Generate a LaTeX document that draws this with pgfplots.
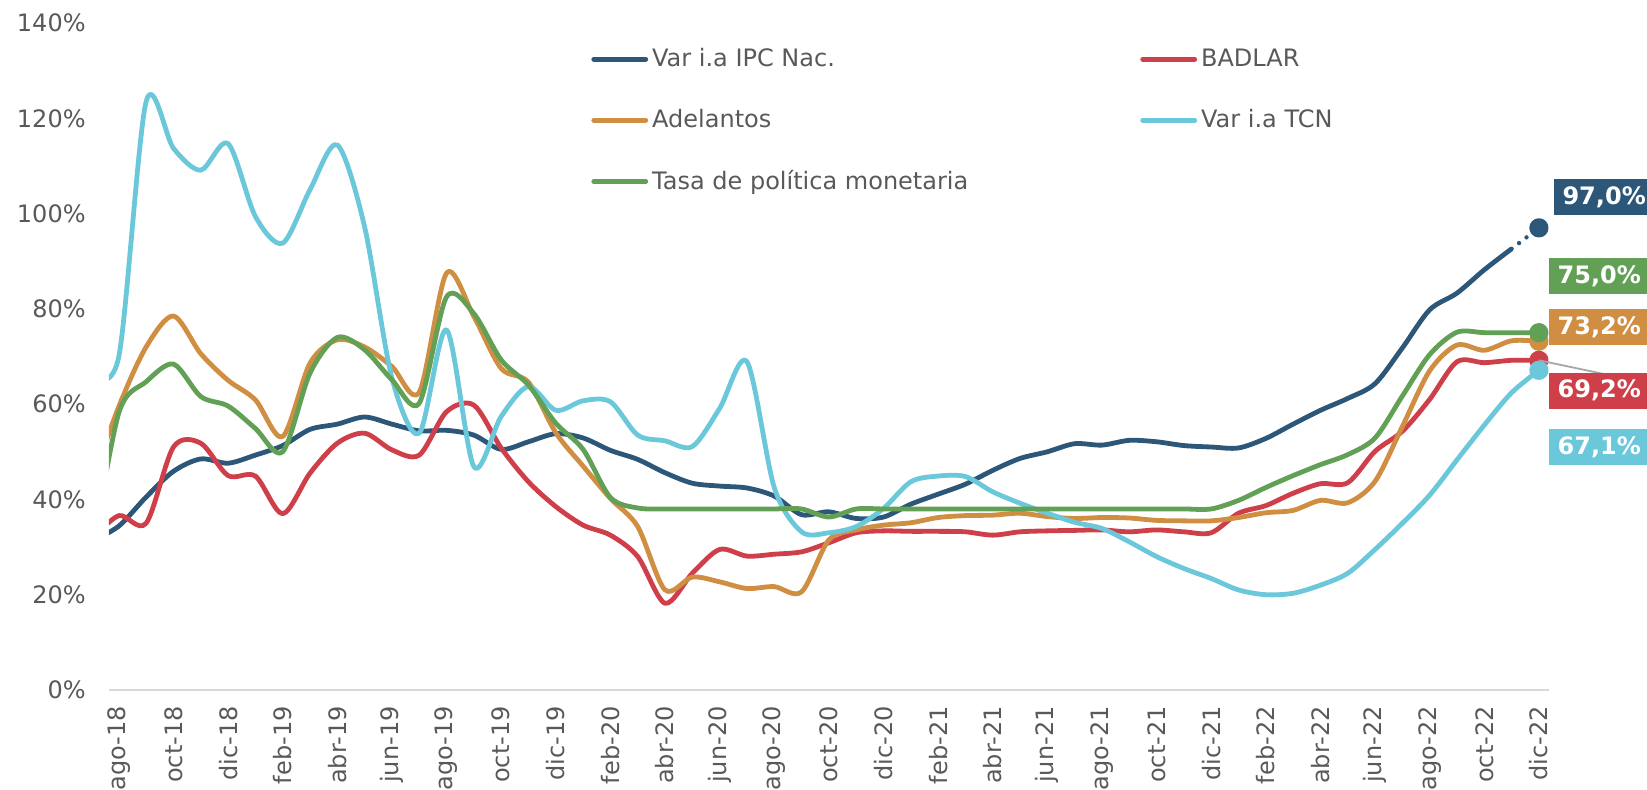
\documentclass[border=0pt]{standalone}
\usepackage{fontspec}
\setmainfont{DejaVu Sans}
\usepackage{pgfplots}
\pgfplotsset{compat=1.18}
\usepackage{pgfplotstable}
\usetikzlibrary{calc}

\definecolor{ipc}{HTML}{2C5779}
\definecolor{bad}{HTML}{CF3F4A}
\definecolor{ade}{HTML}{D08E42}
\definecolor{tcn}{HTML}{6BC7DA}
\definecolor{tpm}{HTML}{62A055}
\definecolor{txt}{HTML}{595959}
\definecolor{axl}{HTML}{D9D9D9}

\pgfplotstableread{
i   ipc   bad   ade   tcn    tpm
-1  31.2  31.6  43.4  66.0   28.0
0   34.4  36.6  59.5  70.0   58.2
1   40.5  35.0  72.0  123.5  64.7
2   45.9  51.0  78.5  113.7  68.4
3   48.5  51.8  70.6  109.1  61.6
4   47.6  45.0  65.0  114.7  59.6
5   49.3  44.9  60.9  99.4   54.9
6   51.3  37.0  53.2  93.8   50.0
7   54.7  45.5  68.6  105.0  66.5
8   55.8  51.8  73.5  114.4  74.0
9   57.3  53.9  72.0  97.2   71.4
10  55.8  50.4  67.9  65.5   65.1
11  54.4  49.3  62.5  53.9   60.2
12  54.5  58.4  87.5  75.6   82.5
13  53.5  59.8  78.4  46.9   79.0
14  50.5  50.8  67.5  57.4   69.3
15  52.1  43.7  64.6  63.7   64.0
16  53.8  38.5  54.0  58.7   56.0
17  52.9  34.6  47.0  60.7   50.5
18  50.3  32.5  40.2  60.5   40.4
19  48.4  28.0  34.3  53.5   38.2
20  45.6  18.2  21.0  52.3   38.0
21  43.4  24.5  23.7  51.1   38.0
22  42.8  29.5  22.7  59.1   38.0
23  42.4  28.1  21.3  68.9   38.0
24  40.7  28.5  21.7  42.5   38.0
25  36.8  29.0  20.6  33.2   38.0
26  37.4  30.9  31.5  33.0   36.3
27  36.0  33.0  33.6  34.3   38.0
28  36.3  33.4  34.6  38.1   38.0
29  39.0  33.3  35.1  43.7   38.0
30  41.1  33.3  36.2  44.9   38.0
31  43.2  33.2  36.6  44.8   38.0
32  46.1  32.5  36.7  41.6   38.0
33  48.6  33.2  37.1  39.2   38.0
34  50.0  33.4  36.4  37.1   38.0
35  51.7  33.5  36.0  35.2   38.0
36  51.4  33.6  36.2  33.9   38.0
37  52.4  33.2  36.1  31.1   38.0
38  52.1  33.6  35.6  28.0   38.0
39  51.3  33.2  35.5  25.5   38.0
40  51.0  33.0  35.5  23.4   38.0
41  50.8  37.1  36.2  21.0   39.8
42  52.8  38.7  37.2  20.0   42.5
43  55.8  41.3  37.7  20.3   45.0
44  58.7  43.3  39.8  22.0   47.3
45  61.2  43.5  39.3  24.5   49.4
46  64.3  50.1  43.8  29.5   52.9
47  71.8  54.3  55.3  35.0   61.7
48  79.8  61.0  67.0  40.9   70.4
49  83.3  68.9  72.4  48.3   75.1
50  88.2  68.7  71.3  55.6   75.0
51  92.6  69.2  73.3  62.4   75.0
52  97.0  69.2  73.2  67.1   75.0
}\data

\begin{document}
\fontsize{12}{14.4}\selectfont
\begin{tikzpicture}
\begin{axis}[
  name=ax,
  scale only axis,
  width=720pt, height=333.5pt,
  xmin=-0.36, xmax=52.37,
  ymin=0, ymax=140,
  clip mode=individual,
  axis x line*=bottom, axis y line*=left,
  y axis line style={draw=none},
  x axis line style={draw=axl, line width=1.3pt},
  major tick length=0pt,
  ytick={0,20,...,140},
  yticklabel={\pgfmathprintnumber{\tick}\%},
  xtick={0,2,...,52},
  xticklabels={ago-18,oct-18,dic-18,feb-19,abr-19,jun-19,ago-19,oct-19,dic-19,feb-20,abr-20,jun-20,ago-20,oct-20,dic-20,feb-21,abr-21,jun-21,ago-21,oct-21,dic-21,feb-22,abr-22,jun-22,ago-22,oct-22,dic-22},
  xticklabel style={rotate=90, anchor=east},
  xticklabel shift=4pt,
  yticklabel shift=7.5pt,
  ticklabel style={font=\fontsize{12}{14.4}\selectfont, text=txt},
  /pgf/number format/assume math mode=true,
  every axis plot/.append style={line width=2.4pt, line join=round},
  legend columns=2,
  legend cell align=left,
  legend image code/.code={\draw[#1, line width=2.4pt, line cap=round] (0pt,0pt) -- (26pt,0pt);},
  legend style={draw=none, fill=none, inner sep=0pt,
    at={(0.3347,0.9688)}, anchor=north west,
    font=\fontsize{12}{14.4}\selectfont, text=txt,
    row sep=15.6pt,
    /tikz/every even column/.append style={column sep=84pt}},
]
\addplot[ipc, smooth, restrict x to domain=-1:51] table[x=i, y=ipc] {\data};
\addlegendentry{Var i.a IPC Nac.}
\addplot[bad, smooth] table[x=i, y=bad] {\data};
\addlegendentry{BADLAR}
\addplot[ade, smooth] table[x=i, y=ade] {\data};
\addlegendentry{Adelantos}
\addplot[tcn, smooth] table[x=i, y=tcn] {\data};
\addlegendentry{Var i.a TCN}
\addplot[tpm, smooth] table[x=i, y=tpm] {\data};
\addlegendentry{Tasa de política monetaria}

\addplot[ipc, forget plot, line width=2.2pt, line cap=round, dash pattern=on 0pt off 4.7pt] coordinates {(51,92.6) (52,97.0)};

\addplot[forget plot, only marks, mark=*, mark size=3.6pt, ipc] coordinates {(52,97.0)};
\addplot[forget plot, only marks, mark=*, mark size=3.6pt, bad] coordinates {(52,69.2)};
\addplot[forget plot, only marks, mark=*, mark size=3.6pt, ade] coordinates {(52,73.2)};
\addplot[forget plot, only marks, mark=*, mark size=3.6pt, tcn] coordinates {(52,67.1)};
\addplot[forget plot, only marks, mark=*, mark size=3.6pt, tpm] coordinates {(52,75.0)};

\draw[color=black!35, line width=0.9pt] (axis cs:52,69.2) -- (axis cs:54.4,66.3);

\tikzset{lab/.style={anchor=west, text=white, font=\fontsize{12}{14.4}\selectfont\bfseries, inner xsep=4.5pt, inner ysep=0pt, minimum height=18pt, text width=46pt, align=left}}
\node[lab, fill=ipc] at (axis cs:52.52,103.5) {97,0\%};
\node[lab, fill=tpm] at (axis cs:52.34,86.9) {75,0\%};
\node[lab, fill=ade] at (axis cs:52.34,76.2) {73,2\%};
\node[lab, fill=bad] at (axis cs:52.34,62.8) {69,2\%};
\node[lab, fill=tcn] at (axis cs:52.34,51.0) {67,1\%};
\end{axis}
\pgfresetboundingbox
\path[use as bounding box] ($(ax.south west)+(-54.5pt,-50pt)$) rectangle ($(ax.north east)+(49pt,11.5pt)$);
\end{tikzpicture}
\end{document}
